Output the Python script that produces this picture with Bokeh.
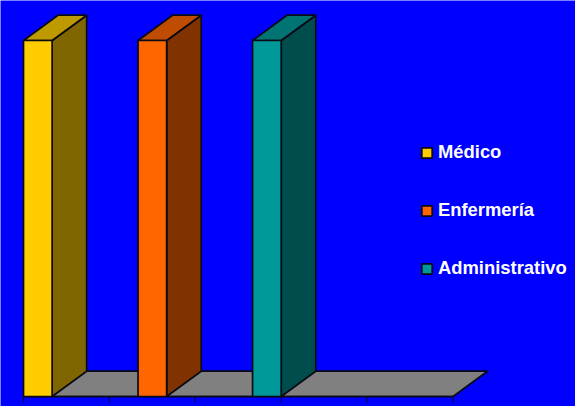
from bokeh.embed import file_html
from bokeh.models import Legend, LegendItem, Range1d
from bokeh.plotting import figure
from bokeh.resources import INLINE

# Staff groups, one bar each, all of equal height
series = ["Médico", "Enfermería", "Administrativo"]
category_index = [0, 1, 2]
values = [100, 100, 100]
front_colors = ["#FFCC00", "#FF6600", "#009999"]
top_colors = ["#BF9900", "#BF4C00", "#007373"]
side_colors = ["#806600", "#803300", "#004D4D"]
category_ticks = [0, 1, 2, 3, 4, 5]

# Oblique projection of the depth axis, in data units
DEPTH_X = 0.402
DEPTH_Y = 7.1
BAR_WIDTH = 1 / 3
TICK_LENGTH = 1.7
EDGE = "#0a0a14"
EDGE_WIDTH = 1.7

p = figure(
    width=575,
    height=406,
    output_backend="svg",
    toolbar_location=None,
    x_range=Range1d(-23 / 85.9, (575 - 23) / 85.9),
    y_range=Range1d(-10 / 3.56, 396 / 3.56),
    x_axis_location=None,
    y_axis_location=None,
    min_border=0,
    background_fill_color="#0000FF",
    border_fill_color="#0000FF",
    outline_line_color=None,
)
p.grid.visible = False

# Floor of the 3D box
x0, x1 = category_ticks[0], category_ticks[-1]
p.patch(
    [x0, x1, x1 + DEPTH_X, x0 + DEPTH_X],
    [0, 0, DEPTH_Y, DEPTH_Y],
    fill_color="#808080",
    line_color=EDGE,
    line_width=EDGE_WIDTH,
)

# Category axis line with outward ticks
p.segment(x0=[x0], y0=[0], x1=[x1], y1=[0], line_color=EDGE, line_width=EDGE_WIDTH)
p.segment(
    x0=category_ticks,
    y0=[0] * len(category_ticks),
    x1=category_ticks,
    y1=[-TICK_LENGTH] * len(category_ticks),
    line_color=EDGE,
    line_width=1,
)

legend_items = []
for i, name in enumerate(series):
    left = category_index[i] + i * BAR_WIDTH
    right = left + BAR_WIDTH
    top = values[i]
    p.patch(
        [right, right + DEPTH_X, right + DEPTH_X, right],
        [0, DEPTH_Y, top + DEPTH_Y, top],
        fill_color=side_colors[i],
        line_color=EDGE,
        line_width=EDGE_WIDTH,
    )
    p.patch(
        [left, right, right + DEPTH_X, left + DEPTH_X],
        [top, top, top + DEPTH_Y, top + DEPTH_Y],
        fill_color=top_colors[i],
        line_color=EDGE,
        line_width=EDGE_WIDTH,
    )
    front = p.quad(
        left=left,
        right=right,
        bottom=0,
        top=top,
        fill_color=front_colors[i],
        line_color=EDGE,
        line_width=EDGE_WIDTH,
    )
    legend_items.append(LegendItem(label=name, renderers=[front]))

legend = Legend(
    items=legend_items,
    location=(420, 127),
    orientation="vertical",
    background_fill_alpha=0,
    border_line_color=None,
    margin=0,
    padding=0,
    spacing=36,
    glyph_width=13,
    glyph_height=13,
    label_width=130,
    label_height=20,
    label_standoff=5,
    label_text_color="white",
    label_text_font="Liberation Sans",
    label_text_font_style="bold",
    label_text_font_size="18.4px",
)
p.add_layout(legend, "center")

open("out.html", "w").write(file_html(p, INLINE))
